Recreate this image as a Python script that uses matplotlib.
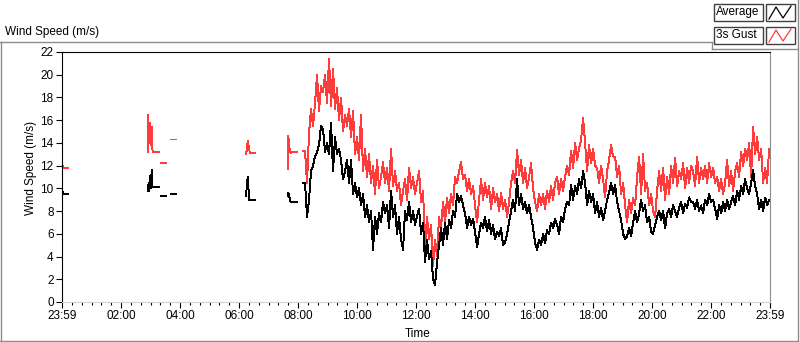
import numpy as np
import matplotlib.pyplot as plt
from matplotlib.patches import Rectangle
from matplotlib.lines import Line2D

# time axis in hours after 23:59 of the previous day
# short bursts of data before the logger runs continuously
burst_times = [
    [0.00, 0.03, 0.20],
    [2.90, 2.92, 2.95, 2.98, 3.01, 3.04, 3.07, 3.30],
    [3.35, 3.51],
    [3.69, 3.86],
    [6.24, 6.27, 6.30, 6.34, 6.37, 6.54],
    [7.66, 7.67, 7.71, 7.75, 7.79, 7.95],
]
burst_gust = [
    [12.2, 11.8, 11.8],
    [13.2, 16.5, 14.0, 15.8, 13.8, 15.4, 13.2, 13.2],
    [12.2, 12.2],
    [14.3, 14.3],
    [13.0, 13.5, 14.2, 13.5, 13.1, 13.1],
    [11.7, 14.6, 13.5, 13.1, 13.2, 13.2],
]
burst_avg = [
    [10.0, 9.5, 9.5],
    [9.8, 10.3, 9.8, 11.1, 10.0, 11.6, 10.1, 10.1],
    [9.3, 9.3],
    [9.5, 9.5],
    [9.3, 10.5, 11.0, 9.0, 9.0, 9.0],
    [9.3, 9.6, 9.2, 8.8, 8.8, 8.8],
]

# continuous record 08:10 -> 23:58
cont_start, cont_end = 8.17, 23.97
gust = [
    13.3, 13.3, 10.5, 14.8, 17.0, 15.5, 17.5, 20.0, 16.8, 19.0, 18.5, 20.0, 17.5,
    21.4, 17.2, 20.5, 17.0, 18.8, 16.0, 18.0, 15.0, 16.5, 15.5, 17.0, 14.5, 16.8,
    13.0, 14.5, 12.5, 16.5, 11.5, 13.5, 11.0, 13.0, 10.5, 12.0, 9.5, 12.5, 10.0,
    11.0, 12.3, 10.5, 11.8, 9.8, 13.5, 10.2, 11.5, 9.8, 10.5, 8.5, 9.8, 10.8,
    9.0, 11.8, 10.0, 11.0, 9.5, 10.5, 11.5, 8.8, 9.8, 5.0, 7.5, 5.5, 6.8, 3.2,
    5.5, 4.0, 7.5, 6.5, 8.8, 7.0, 9.2, 7.8, 9.5, 8.5, 11.0, 10.5,
    11.5, 12.3, 10.8, 11.2, 9.8, 10.8, 9.5, 10.2, 8.5, 7.0, 9.0, 10.8, 9.0,
    10.5, 9.2, 10.2, 8.2, 10.0, 8.8, 9.5, 8.0, 9.6, 8.2, 9.0, 7.5, 8.8, 10.5,
    11.5, 10.5, 13.4, 11.2, 12.5, 10.5, 11.8, 10.0, 11.0, 12.2, 10.0, 8.8,
    8.0, 9.5, 8.5, 9.5, 8.2, 9.8, 8.8, 10.2, 9.0, 10.5, 11.0, 9.5, 10.8, 9.8,
    11.0, 12.0, 11.2, 13.3, 11.8, 14.0, 12.5, 13.5, 14.3, 16.2, 14.0, 11.5,
    13.8, 12.2, 13.5, 12.0, 11.8, 10.5, 12.0, 10.8, 9.2, 11.5, 12.5, 13.8, 12.8,
    12.8, 11.0, 12.0, 9.5, 10.5, 8.5, 7.0, 9.0, 7.8, 9.2, 8.5, 11.0, 12.8,
    9.5, 13.0, 9.8, 10.5, 8.5, 9.5, 8.0, 7.5, 9.8, 11.5, 9.8, 11.8, 9.0, 11.0,
    9.5, 12.0, 10.5, 12.7, 10.2, 11.5, 10.8, 12.2, 10.0, 11.8, 10.5, 12.0,
    11.5, 10.2, 12.8, 10.5, 11.8, 10.8, 12.0, 10.5, 12.2, 11.0, 11.8, 10.5,
    11.0, 9.8, 10.8, 9.5, 10.5, 12.5, 10.2, 11.5, 9.8, 11.5, 12.2, 11.0, 13.2,
    12.0, 13.5, 12.5, 14.0, 11.0, 15.4, 13.0, 14.5, 12.5, 13.5, 10.5, 11.8,
    10.5, 13.5,
]
average = [
    10.5, 10.5, 7.5, 9.0, 11.5, 12.0, 12.8, 13.2, 13.8, 15.5, 15.2, 13.2, 14.0,
    13.0, 15.8, 11.5, 14.5, 13.0, 13.5, 12.5, 10.8, 11.5, 12.5, 10.5, 12.5, 9.5,
    10.5, 9.2, 10.0, 8.5, 9.5, 7.5, 8.5, 7.0, 8.0, 4.6, 7.5, 6.0, 7.8,
    7.0, 8.8, 7.8, 8.5, 6.5, 9.8, 7.5, 8.5, 6.0, 7.5, 5.5, 4.6, 8.0, 7.2, 8.8,
    7.0, 8.0, 6.8, 7.5, 8.2, 6.0, 7.0, 3.5, 5.5, 3.8, 4.5, 2.0, 1.5, 3.5, 5.0,
    6.5, 5.0, 7.0, 5.5, 7.2, 6.5, 8.0, 7.5, 9.5,
    8.8, 9.3, 8.5, 7.8, 6.5, 7.5, 6.8, 7.3, 6.2, 4.8, 6.0, 7.0, 6.5, 7.5, 6.2,
    7.2, 6.0, 6.8, 5.5, 6.2, 5.8, 6.5, 5.0, 5.2, 6.0, 7.0, 8.0, 9.0, 8.0,
    10.8, 8.5, 9.5, 8.2, 8.8, 7.8, 8.5, 7.5, 6.5, 5.2,
    4.6, 5.5, 5.0, 6.0, 5.2, 6.3, 6.0, 7.0, 6.5, 7.3, 6.8, 6.0, 7.5, 7.0, 8.2,
    8.8, 8.5, 10.3, 9.0, 10.2, 9.5, 10.8, 10.0, 11.5, 10.5, 8.5, 9.8, 8.8, 9.5,
    7.8, 8.8, 7.5, 8.3, 7.2, 8.0, 9.0, 9.6, 10.5, 9.5,
    10.3, 8.8, 8.0, 7.2, 6.0, 5.5, 5.8, 6.5, 5.8, 7.0, 8.0, 7.0, 7.8, 9.0, 8.0,
    8.5, 7.0, 7.5, 6.2, 6.0, 6.8, 7.5, 8.0, 7.2, 8.0, 6.5, 7.8, 8.2, 7.5, 8.5,
    8.0, 7.5, 8.3, 8.8, 7.8, 8.6, 8.3, 9.2, 8.8,
    8.8, 8.2, 9.0, 8.0, 8.5, 7.8, 9.0, 8.5, 9.5, 8.8, 9.0, 8.2, 7.3, 8.5, 7.8,
    8.8, 8.0, 9.0, 8.2, 8.8, 9.3, 8.5, 9.8, 9.0, 10.2, 9.5, 10.8, 10.0, 9.5,
    10.5, 11.6, 10.2, 9.5, 8.2, 9.0, 8.0, 9.2, 8.5, 9.0,
]

tick_hours = list(range(0, 25, 2))
tick_labels = ["23:59", "02:00", "04:00", "06:00", "08:00", "10:00", "12:00",
               "14:00", "16:00", "18:00", "20:00", "22:00", "23:59"]


def join(times, vals, t_cont, v_cont):
    # stitch segments together with NaN gaps
    t_all, v_all = [], []
    for t, v in zip(times, vals):
        t_all += t + [np.nan]
        v_all += v + [np.nan]
    t_all += list(t_cont)
    v_all += list(v_cont)
    return np.array(t_all), np.array(v_all)


t_cont = np.linspace(cont_start, cont_end, len(gust))
tg, vg = join(burst_times, burst_gust, t_cont, gust)
ta, va = join(burst_times, burst_avg, t_cont, average)

plt.rcParams['font.family'] = ['Liberation Sans', 'DejaVu Sans']

W, H = 800, 342
fig = plt.figure(figsize=(W / 100, H / 100), dpi=100)
ax = fig.add_axes([62 / W, 1 - 302 / H, (770 - 62) / W, 250 / H])

ax.plot(tg, vg, color='#ff3c3c', lw=0.7, antialiased=False)
ax.plot(ta, va, color='black', lw=0.7, antialiased=False)

ax.set_xlim(0, 24)
ax.set_ylim(0, 22)
ax.set_yticks(range(0, 23, 2))
ax.set_xticks(tick_hours)
ax.set_xticklabels(tick_labels)
ax.set_xticks(np.arange(0, 24.01, 1 / 3), minor=True)
ax.tick_params(axis='both', which='major', direction='out', length=4,
               width=0.8, labelsize=8.5, pad=2)
ax.tick_params(axis='x', which='minor', direction='out', length=2.5, width=0.8)
ax.spines['left'].set_color('black')
ax.spines['top'].set_color('black')
ax.spines['right'].set_color('#8c8c8c')
ax.spines['bottom'].set_color('#d0d0d0')


def fx(x):
    return x / W


def fy(y):
    return 1 - y / H


fig.text(fx(31), fy(168), "Wind Speed (m/s)", rotation=90, ha='center',
         va='center', fontsize=8.5)
fig.text(fx(418), fy(334), "Time", ha='center', va='center', fontsize=8.5)
fig.text(fx(5), fy(32), "Wind Speed (m/s)", ha='left', va='center', fontsize=8.5)

# outer panel frame
gray = '#8c8c8c'
for xs, ys in [([0, 712], [42, 42]), ([0.5, 0.5], [42, 341]),
               ([0, 798], [341, 341]), ([798, 798], [0, 341]),
               ([712, 798], [49, 49]), ([712, 712], [42, 49])]:
    fig.add_artist(Line2D([fx(x) for x in xs], [fy(y) for y in ys],
                          color=gray, lw=1))

# legend
for y0, label, col in [(4, "Average", 'black'), (27, "3s Gust", '#ff3c3c')]:
    fig.add_artist(Rectangle((fx(714), fy(y0 + 17)), 49 / W, 17 / H,
                             facecolor='white', edgecolor='#404040', lw=1))
    fig.add_artist(Rectangle((fx(766), fy(y0 + 17)), 29 / W, 17 / H,
                             facecolor='white', edgecolor='#404040', lw=1))
    fig.text(fx(716), fy(y0 + 8.5), label, ha='left', va='center', fontsize=8.5)
    zx = [769, 776, 783, 791]
    zy = [y0 + 15, y0 + 3, y0 + 14, y0 + 2]
    fig.add_artist(Line2D([fx(x) for x in zx], [fy(y) for y in zy],
                          color=col, lw=0.9))

fig.savefig('out.png', dpi=100)
